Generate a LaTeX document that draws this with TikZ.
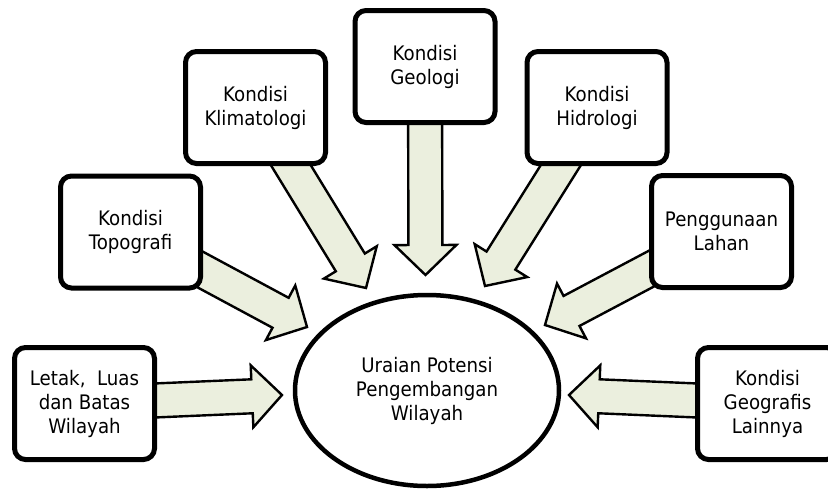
\documentclass[tikz,border=0pt]{standalone}
\usepackage{fontspec}
\setmainfont{DejaVu Sans}[FakeStretch=0.91]
\usetikzlibrary{calc,shapes.geometric}
\pgfdeclarelayer{background}
\pgfsetlayers{background,main}
\definecolor{arrowfill}{RGB}{235,239,222}
\tikzset{
  txt/.style={font=\fontsize{20}{24}\selectfont, align=center, text=black},
  box/.style={txt, draw, line width=5pt, rounded corners=11pt, fill=white,
    minimum width=140pt, minimum height=112pt, inner sep=0pt},
  hub/.style={txt, ellipse, draw, line width=4.5pt, fill=white,
    minimum width=264pt, minimum height=191pt, inner sep=0pt},
  blockarrow/.style={draw=black, line width=2.4pt, fill=arrowfill, line join=miter}
}
\newcommand\blkarrow[2]{%
  \coordinate (hb) at ($(#2)!30pt!(#1)$);
  \draw[blockarrow]
    ($(#1)!17pt!90:(#2)$) -- ($(hb)!17pt!90:(#2)$) -- ($(hb)!31pt!90:(#2)$)
    -- (#2) -- ($(hb)!31pt!-90:(#2)$) -- ($(hb)!17pt!-90:(#2)$)
    -- ($(#1)!17pt!-90:(#2)$) -- cycle;}
\begin{document}
\begin{tikzpicture}[x=1pt,y=-1pt]
\useasboundingbox (0,0) rectangle (828,493);
\node[box] (letak) at (84.5,403.5) {Letak,\ \ Luas\\dan Batas\\Wilayah};
\node[box] (topo)  at (130.5,232) {Kondisi\\Topografi};
\node[box] (klim)  at (255.5,107.5) {Kondisi\\Klimatologi};
\node[box] (geo)   at (425,66.5) {Kondisi\\Geologi};
\node[box] (hidro) at (597,107.5) {Kondisi\\Hidrologi};
\node[box] (guna)  at (721.5,231.5) {Penggunaan\\Lahan};
\node[box] (lain)  at (767.5,403.5) {Kondisi\\Geografis\\Lainnya};
\node[hub] (pusat) at (427,390.5) {Uraian Potensi\\Pengembangan\\Wilayah};
\coordinate (tLetak) at (282,395);
\coordinate (tTopo)  at (307,327);
\coordinate (tKlim)  at (366,288);
\coordinate (tGeo)   at (425.5,275);
\coordinate (tHidro) at (485,286);
\coordinate (tGuna)  at (545,325);
\coordinate (tLain)  at (569,395);
\begin{pgfonlayer}{background}
\blkarrow{letak.center}{tLetak}
\blkarrow{topo.center}{tTopo}
\blkarrow{klim.center}{tKlim}
\blkarrow{geo.center}{tGeo}
\blkarrow{hidro.center}{tHidro}
\blkarrow{guna.center}{tGuna}
\blkarrow{lain.center}{tLain}
\end{pgfonlayer}
\end{tikzpicture}
\end{document}
